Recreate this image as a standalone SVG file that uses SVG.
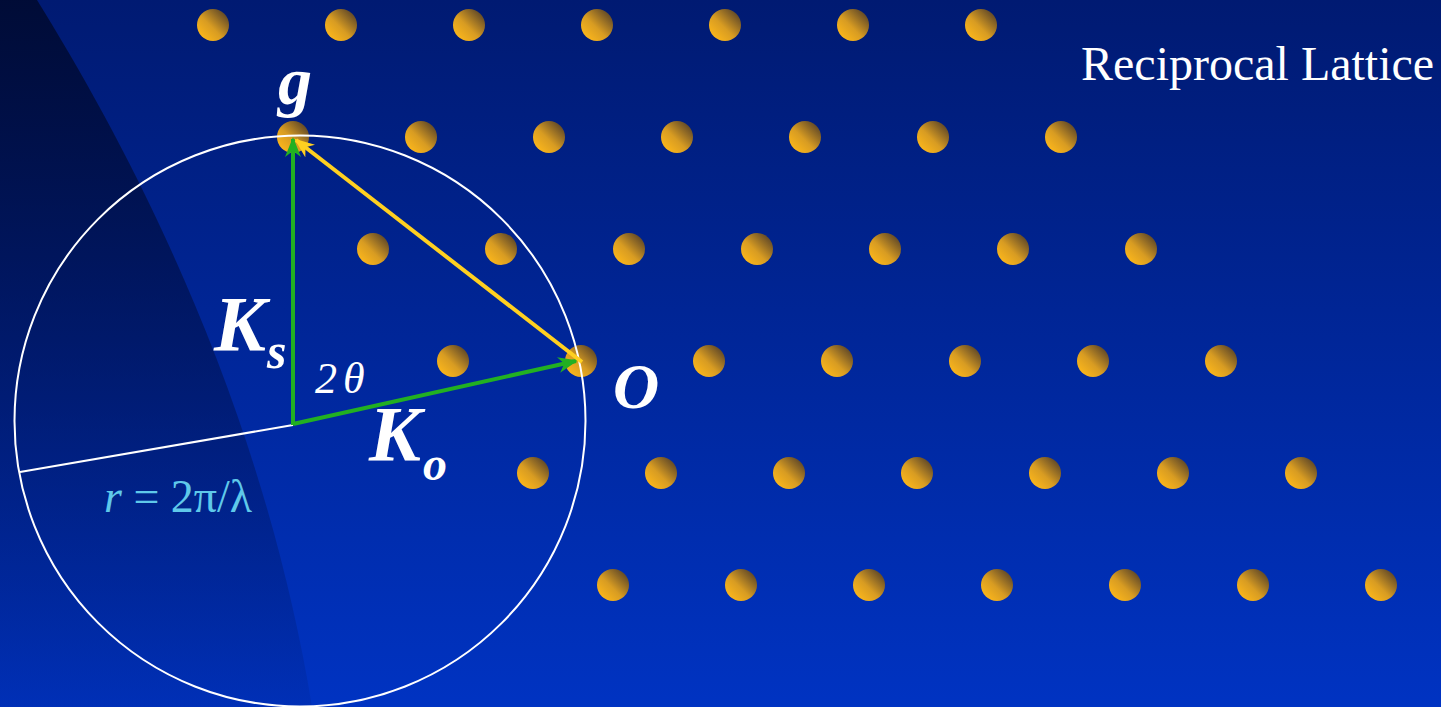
<svg xmlns="http://www.w3.org/2000/svg" width="1441" height="707" viewBox="0 0 1441 707">
<defs>
<linearGradient id="bg" x1="0" y1="0" x2="0" y2="1">
<stop offset="0" stop-color="#001a72"/>
<stop offset="1" stop-color="#0033c2"/>
</linearGradient>
<linearGradient id="shade" x1="0" y1="0" x2="0" y2="1">
<stop offset="0" stop-color="#000a30" stop-opacity="0.9"/>
<stop offset="1" stop-color="#001050" stop-opacity="0.1"/>
</linearGradient>
<linearGradient id="dot" x1="0.15" y1="0.85" x2="0.9" y2="0.1">
<stop offset="0" stop-color="#f8b41c"/>
<stop offset="0.4" stop-color="#d89c22"/>
<stop offset="1" stop-color="#5a4428"/>
</linearGradient>
<marker id="ag" viewBox="0 0 10 10" refX="9" refY="5" markerWidth="5" markerHeight="4" orient="auto" markerUnits="strokeWidth" preserveAspectRatio="none">
<path d="M0,0 L10,5 L0,10 L3,5 z" fill="#22b022"/>
</marker>
<marker id="ay" viewBox="0 0 10 10" refX="9" refY="5" markerWidth="5" markerHeight="4" orient="auto" markerUnits="strokeWidth" preserveAspectRatio="none">
<path d="M0,0 L10,5 L0,10 L3,5 z" fill="#ffd020"/>
</marker>
</defs>
<style>
.dot{fill:url(#dot)}
.lbl{font-family:"Liberation Serif",serif;fill:#fff}
.bi{font-weight:bold;font-style:italic}
</style>
<rect width="1441" height="707" fill="url(#bg)"/>
<path d="M0,0 L37,0 C130,150 262,400 312,707 L0,707 Z" fill="url(#shade)"/>
<g id="lattice">
<circle class="dot" cx="213" cy="25" r="16"/><circle class="dot" cx="341" cy="25" r="16"/><circle class="dot" cx="469" cy="25" r="16"/><circle class="dot" cx="597" cy="25" r="16"/><circle class="dot" cx="725" cy="25" r="16"/><circle class="dot" cx="853" cy="25" r="16"/><circle class="dot" cx="981" cy="25" r="16"/>
<circle class="dot" cx="293" cy="137" r="16"/><circle class="dot" cx="421" cy="137" r="16"/><circle class="dot" cx="549" cy="137" r="16"/><circle class="dot" cx="677" cy="137" r="16"/><circle class="dot" cx="805" cy="137" r="16"/><circle class="dot" cx="933" cy="137" r="16"/><circle class="dot" cx="1061" cy="137" r="16"/>
<circle class="dot" cx="373" cy="249" r="16"/><circle class="dot" cx="501" cy="249" r="16"/><circle class="dot" cx="629" cy="249" r="16"/><circle class="dot" cx="757" cy="249" r="16"/><circle class="dot" cx="885" cy="249" r="16"/><circle class="dot" cx="1013" cy="249" r="16"/><circle class="dot" cx="1141" cy="249" r="16"/>
<circle class="dot" cx="453" cy="361" r="16"/><circle class="dot" cx="581" cy="361" r="16"/><circle class="dot" cx="709" cy="361" r="16"/><circle class="dot" cx="837" cy="361" r="16"/><circle class="dot" cx="965" cy="361" r="16"/><circle class="dot" cx="1093" cy="361" r="16"/><circle class="dot" cx="1221" cy="361" r="16"/>
<circle class="dot" cx="533" cy="473" r="16"/><circle class="dot" cx="661" cy="473" r="16"/><circle class="dot" cx="789" cy="473" r="16"/><circle class="dot" cx="917" cy="473" r="16"/><circle class="dot" cx="1045" cy="473" r="16"/><circle class="dot" cx="1173" cy="473" r="16"/><circle class="dot" cx="1301" cy="473" r="16"/>
<circle class="dot" cx="613" cy="585" r="16"/><circle class="dot" cx="741" cy="585" r="16"/><circle class="dot" cx="869" cy="585" r="16"/><circle class="dot" cx="997" cy="585" r="16"/><circle class="dot" cx="1125" cy="585" r="16"/><circle class="dot" cx="1253" cy="585" r="16"/><circle class="dot" cx="1381" cy="585" r="16"/>
</g>
<g id="ewald">
<circle cx="300" cy="421" r="285.5" fill="none" stroke="#fff" stroke-width="2"/>
</g>
<g id="connectors" fill="none" stroke-width="4">
<line x1="293" y1="425" x2="20" y2="472" stroke="#fff" stroke-width="2"/>
<line x1="293" y1="425" x2="293" y2="139" stroke="#22b022" marker-end="url(#ag)"/>
<line x1="293" y1="424" x2="576" y2="361" stroke="#22b022" marker-end="url(#ag)"/>
<line x1="582" y1="362" x2="296" y2="140" stroke="#ffd020" marker-end="url(#ay)"/>
</g>
<g id="labels">
<text class="lbl bi" x="295" y="104" font-size="68" text-anchor="middle">g</text>
<text class="lbl bi" x="214" y="350" font-size="78">K</text>
<text class="lbl bi" x="267" y="368" font-size="50">s</text>
<text class="lbl" x="315" y="393" font-size="44" font-style="italic">2<tspan dx="6">θ</tspan></text>
<text class="lbl bi" x="369" y="460" font-size="78">K</text>
<text class="lbl bi" x="423" y="480" font-size="48">o</text>
<text class="lbl bi" x="613" y="408" font-size="64">O</text>
<text x="104" y="512" font-size="46" font-family="Liberation Serif,serif" fill="#5fc8ea"><tspan font-style="italic">r</tspan> = 2π/λ</text>
<text class="lbl" x="1081" y="80" font-size="48">Reciprocal Lattice</text>
</g>
</svg>
